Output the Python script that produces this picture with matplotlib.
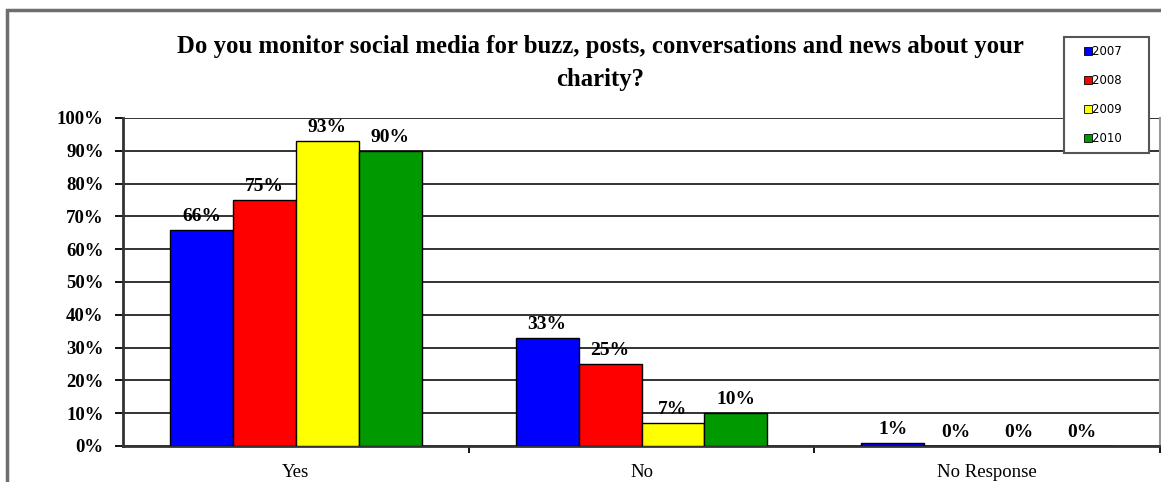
import numpy as np
import matplotlib.pyplot as plt
from matplotlib.patches import Rectangle
from matplotlib.lines import Line2D

categories = ["Yes", "No", "No Response"]
years = ["2007", "2008", "2009", "2010"]
v2007 = [66, 33, 1]
v2008 = [75, 25, 0]
v2009 = [93, 7, 0]
v2010 = [90, 10, 0]
series = [v2007, v2008, v2009, v2010]
colors = ["#0000FF", "#FF0000", "#FFFF00", "#009900"]
yticks = [0, 10, 20, 30, 40, 50, 60, 70, 80, 90, 100]

title = ("Do you monitor social media for buzz, posts, conversations and news about your\n"
         "charity?")

plt.rcParams['font.family'] = ['Liberation Serif', 'DejaVu Serif']

fig = plt.figure(figsize=(11.61, 4.82), dpi=100)
ax = fig.add_axes([123 / 1161, 36 / 482, 1037 / 1161, 328 / 482])

# rand van grafikona (odrezan desno i dolje)
fig.patches.append(Rectangle((7 / 1161, -0.2), 1.2, 1.2 - 10 / 482,
                             transform=fig.transFigure, fill=False,
                             edgecolor="#6e6e6e", lw=2.5, zorder=0))

x = np.arange(len(categories))
w = 0.182
for i, vals in enumerate(series):
    pos = x + (i - 1.5) * w
    ax.bar(pos, vals, w, color=colors[i], edgecolor="black", lw=1, zorder=3)
    for p, v in zip(pos, vals):
        ax.text(p, v + 1.5, f"{v}%", ha="center", va="bottom",
                fontsize=14, fontweight="bold", zorder=4)

ax.set_xlim(-0.5, 2.5)
ax.set_ylim(0, 100)
ax.set_yticks(yticks)
ax.set_yticklabels([f"{t}%" for t in yticks], fontsize=13.5, fontweight="bold")
ax.yaxis.grid(True, color="#222222", lw=1.3, zorder=1)
ax.set_xticks(x)
ax.set_xticklabels(categories, fontsize=13.5)
ax.tick_params(axis="x", length=0, pad=13)
ax.set_xticks([0.5, 1.5, 2.5], minor=True)
ax.tick_params(axis="x", which="minor", length=5, width=1.3, direction="out")
ax.tick_params(axis="y", length=6, width=1.3, direction="out", pad=8)

for s in ["left", "bottom"]:
    ax.spines[s].set_linewidth(2)
    ax.spines[s].set_color("#333333")
ax.spines["top"].set_visible(False)
ax.spines["right"].set_color("#999999")
ax.spines["right"].set_linewidth(1.5)

fig.text(600 / 1161, 1 - 63 / 482, title, ha="center", va="center",
         fontsize=17.8, fontweight="bold", linespacing=1.6)

handles = [Line2D([], [], marker="s", ls="none", markersize=6,
                  markerfacecolor=c, markeredgecolor="black", markeredgewidth=0.6)
           for c in colors]
leg = fig.legend(handles, [y + "     " for y in years], loc="upper left",
                 bbox_to_anchor=(1064 / 1161, 1 - 37 / 482),
                 prop={"family": "DejaVu Sans", "size": 8.5}, handlelength=2.6,
                 handletextpad=-0.9, labelspacing=1.35, borderpad=0.7,
                 borderaxespad=0, fancybox=False, framealpha=1)
leg.get_frame().set_edgecolor("#555555")
leg.get_frame().set_linewidth(1.5)

fig.savefig("out.png", dpi=100)
